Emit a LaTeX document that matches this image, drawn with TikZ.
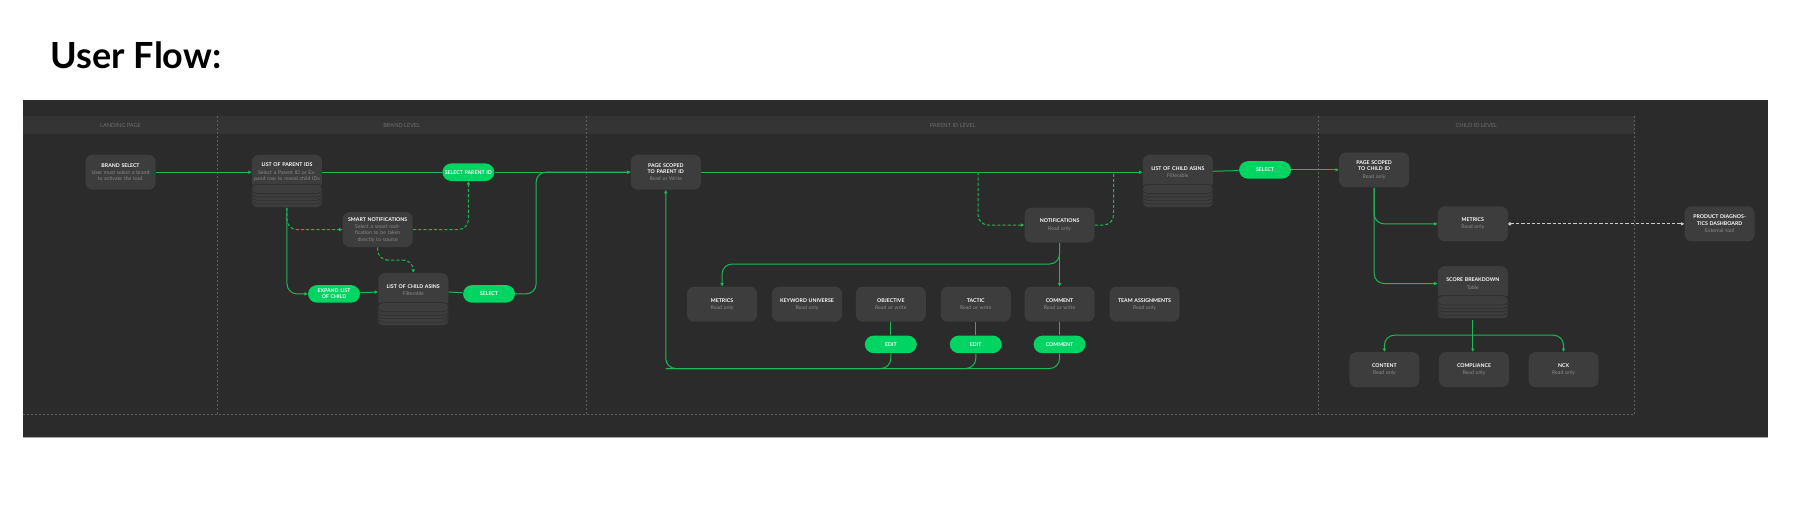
\documentclass[tikz,border=0pt]{standalone}
\usepackage{fontspec}
\setmainfont{Lato}
\usetikzlibrary{arrows.meta,calc,positioning}
\definecolor{panelbg}{HTML}{2B2B2B}
\definecolor{laneband}{HTML}{343434}
\definecolor{boxgray}{HTML}{3D3D3D}
\definecolor{stackline}{HTML}{2E2E2E}
\definecolor{flowgreen}{HTML}{1DB954}
\definecolor{pillgreen}{HTML}{00D463}
\definecolor{subgray}{HTML}{8A8A8A}
\definecolor{lanetext}{HTML}{6E6E6E}
\tikzset{
  box/.style={draw=none, fill=boxgray, rounded corners=3.5pt, minimum width=35pt,
              minimum height=17.5pt, text width=33pt, align=center, text=white,
              font=\fontsize{2.6}{3.2}\selectfont, inner sep=0.5pt},
  pill/.style={fill=pillgreen, rounded corners=4.5pt, minimum width=26pt,
               minimum height=8.8pt, text width=24pt, align=center, text=white,
               font=\fontsize{2.6}{3.1}\selectfont\bfseries, inner sep=0pt},
  flow/.style={draw=flowgreen, line width=0.5pt, rounded corners=5pt},
  dflow/.style={flow, dash pattern=on 1.6pt off 1pt},
  tip/.style={-{Triangle[length=1.6pt,width=1.6pt]}},
  lanelabel/.style={text=lanetext, font=\fontsize{2.8}{3}\selectfont}
}
% title with a small grey subtitle
\newcommand{\bx}[2]{\textbf{#1}\\[0.4pt]{\color{subgray}#2}}
% stacked layers under a list node
\newcommand{\layers}[1]{%
  \foreach \i in {5,4,3,2,1}
    \draw[stackline, fill=boxgray, line width=0.3pt, rounded corners=2.5pt]
      ($(#1.south west)+(0,-5)$) rectangle ($(#1.south east)+(0,3*\i)$);}
\begin{document}
\begin{tikzpicture}[x=0.574pt, y=-0.574pt]
  \useasboundingbox (0,0) rectangle (1568,450);
  \fill[white] (0,0) rectangle (1568,450);
  \node[anchor=west, font=\fontsize{18}{20}\selectfont\bfseries] (title) at (38,48) {User Flow:};
  % panel and lanes
  \fill[panelbg] (20,87) rectangle (1540,381);
  \draw[gray!70, line width=0.6pt] (20,381) -- (1540,381);
  \fill[laneband] (20,101) rectangle (1424,117);
  \foreach \x in {189,511,1148,1424}
    \draw[white!25!panelbg, dash pattern=on 1pt off 1pt, line width=0.3pt] (\x,101) -- (\x,361);
  \draw[white!25!panelbg, dash pattern=on 1pt off 1pt, line width=0.3pt] (20,361) -- (1424,361);
  \node[lanelabel] (l1) at (105,109) {LANDING PAGE};
  \node[lanelabel] (l2) at (350,109) {BRAND LEVEL};
  \node[lanelabel] (l3) at (830,109) {PARENT ID LEVEL};
  \node[lanelabel] (l4) at (1286,109) {CHILD ID LEVEL};

  % landing and brand level
  \node[box] (brand) at (105,150) {\bx{BRAND SELECT}{User must select a brand to activate the tool.}};
  \node[box] (parentlist) at (250,150) {\bx{LIST OF PARENT IDS}{Select a Parent ID or Expand row to reveal child IDs}};
  \layers{parentlist}
  \node[pill] (selparent) at (408,150) {SELECT PARENT ID};
  \node[box] (smart) at (329,200) {\bx{SMART NOTIFICATIONS}{Select a smart notification to be taken directly to source}};
  \node[pill] (expand) at (291,256) {EXPAND LIST OF CHILD};
  \node[box] (childlist) at (360,253) {\bx{LIST OF CHILD ASINS}{Filterable}};
  \layers{childlist}
  \node[pill] (selchild) at (426,256) {SELECT};

  % parent id level
  \node[box] (parentpage) at (580,150) {\bx{PAGE SCOPED TO PARENT ID}{Read or Write}};
  \node[box] (notif) at (923,196) {\bx{NOTIFICATIONS}{Read only}};
  \node[box] (childlist2) at (1026,150) {\bx{LIST OF CHILD ASINS}{Filterable}};
  \layers{childlist2}
  \node[pill] (selchild2) at (1102,148) {SELECT};
  \node[box] (metrics) at (629,265) {\bx{METRICS}{Read only}};
  \node[box] (keyword) at (703,265) {\bx{KEYWORD UNIVERSE}{Read only}};
  \node[box] (objective) at (776,265) {\bx{OBJECTIVE}{Read or write}};
  \node[box] (tactic) at (850,265) {\bx{TACTIC}{Read or write}};
  \node[box] (comment) at (923,265) {\bx{COMMENT}{Read or write}};
  \node[box] (team) at (997,265) {\bx{TEAM ASSIGNMENTS}{Read only}};
  \node[pill] (editobj) at (776,300) {EDIT};
  \node[pill] (edittac) at (850,300) {EDIT};
  \node[pill] (addcomment) at (923,300) {COMMENT};

  % child id level
  \node[box] (childpage) at (1197,148) {\bx{PAGE SCOPED TO CHILD ID}{Read only}};
  \node[box] (cmetrics) at (1283,195) {\bx{METRICS}{Read only}};
  \node[box] (diag) at (1498,195) {\bx{PRODUCT DIAGNOSTICS DASHBOARD}{External tool}};
  \node[box] (score) at (1283,247) {\bx{SCORE BREAKDOWN}{Table}};
  \layers{score}
  \node[box] (content) at (1206,322) {\bx{CONTENT}{Read only}};
  \node[box] (compliance) at (1284,322) {\bx{COMPLIANCE}{Read only}};
  \node[box] (ncx) at (1362,322) {\bx{NCX}{Read only}};

  % connectors
  \coordinate (join1) at (467,150);
  \coordinate (low1) at (250,181);
  \draw[flow, tip] (brand) -- (parentlist);
  \draw[flow] (parentlist) -- (selparent);
  \draw[flow, tip] (selparent) -- (parentpage);
  \draw[flow, tip] (low1) |- (expand);
  \draw[flow, tip] (expand) -- (childlist);
  \draw[flow] (childlist) -- (selchild);
  \draw[flow] (selchild.east) -| (join1) -- (join1 -| parentpage.west);
  \draw[dflow, tip] (low1) |- (smart);
  \draw[dflow, tip] (smart) -| (selparent);
  \draw[dflow, tip] (smart.south) |- ($(smart.south)!0.5!(childlist.north)$) -| (childlist.north);

  \coordinate (split1) at (852,150);
  \coordinate (merge1) at (970,150);
  \draw[flow, tip] (parentpage) -- (childlist2);
  \draw[dflow, tip] (split1) |- (notif);
  \draw[dflow] (notif) -| (merge1);
  \draw[flow] (childlist2) -- (selchild2);
  \draw[flow, tip] (selchild2) -- (childpage);
  \draw[flow, tip] (notif) -- (comment);
  \draw[flow, tip] (notif.south) |- (780,230) -| (metrics.north);
  \coordinate (base) at (580,321);
  \draw[flow] (objective) -- (editobj);
  \draw[flow] (tactic) -- (edittac);
  \draw[flow] (comment) -- (addcomment);
  \draw[flow, tip] (addcomment.south) |- (base) -- (parentpage.south);
  \draw[flow] (editobj.south) |- (base);
  \draw[flow] (edittac.south) |- (base);

  \draw[flow, tip] (childpage.south) |- (cmetrics.west);
  \draw[flow, tip] (childpage.south) |- (score.west);
  \draw[white!80!black, line width=0.5pt, dash pattern=on 1.6pt off 1pt,
        {Circle[open,length=1.6pt]}-{Triangle[length=1.6pt,width=1.6pt]}] (cmetrics) -- (diag);
  \coordinate (fork) at (1283,292);
  \draw[flow] ($(score.south)+(0,16)$) -- (fork);
  \draw[flow, tip] (fork) -| (content.north);
  \draw[flow, tip] (fork) -- (compliance.north -| fork);
  \draw[flow, tip] (fork) -| (ncx.north);
\end{tikzpicture}
\end{document}
